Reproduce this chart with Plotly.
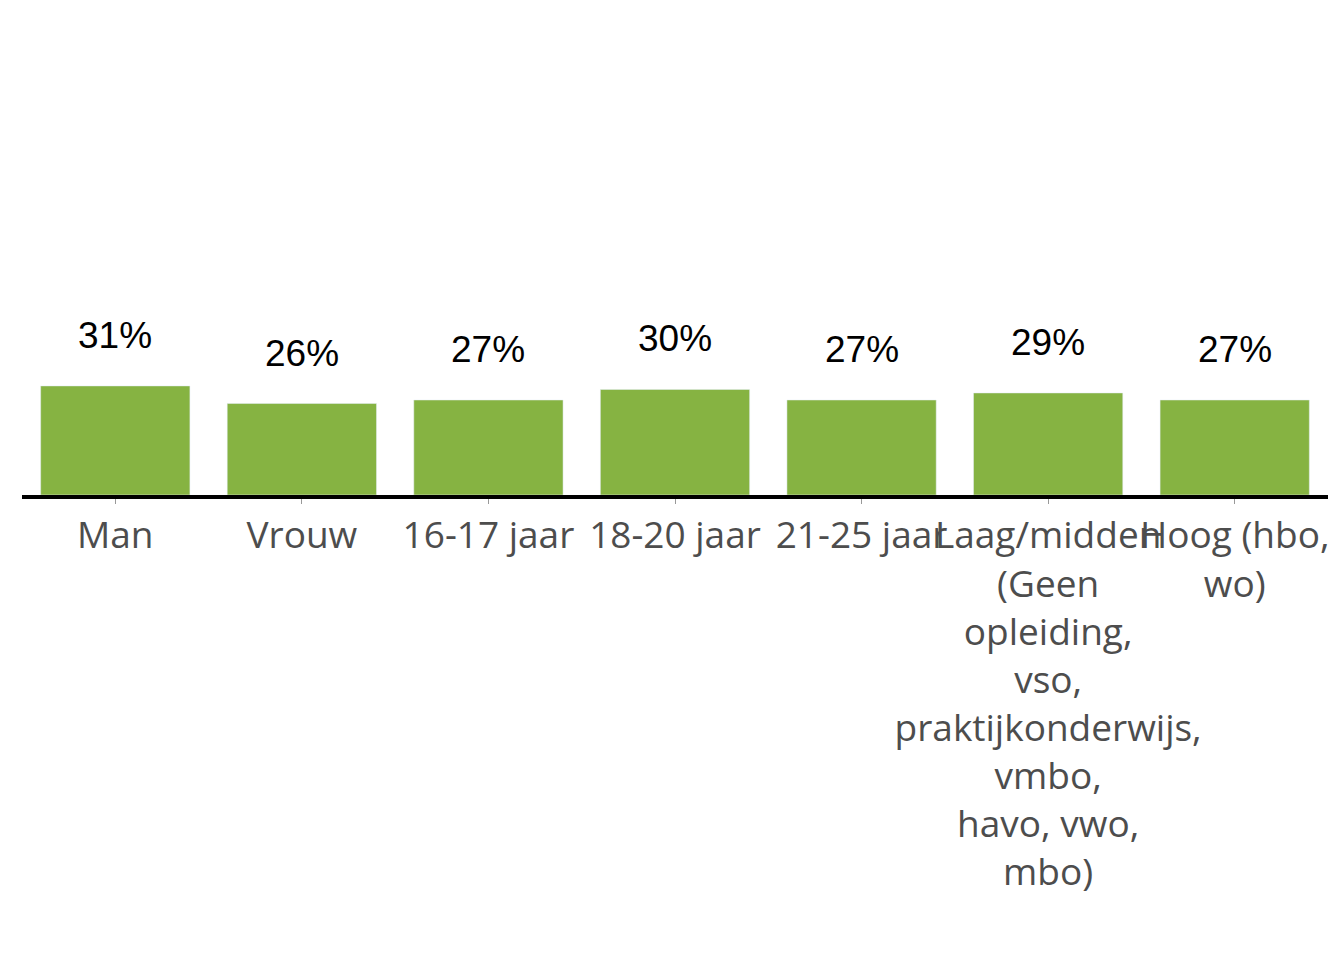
import plotly.graph_objects as go

categories = ["Man", "Vrouw", "16-17 jaar", "18-20 jaar", "21-25 jaar",
              "Laag/midden<br>(Geen<br>opleiding,<br>vso,<br>praktijkonderwijs,<br>vmbo,<br>havo, vwo,<br>mbo)",
              "Hoog (hbo,<br>wo)"]
values = [31, 26, 27, 30, 27, 29, 27]
labels = ["31%", "26%", "27%", "30%", "27%", "29%", "27%"]

fig = go.Figure(go.Bar(x=categories, y=values, marker_color="#86b342", hoverinfo="skip"))
for c, v, t in zip(categories, values, labels):
    fig.add_annotation(x=c, y=v, text=t, showarrow=False, yanchor="bottom", yshift=28,
                       font=dict(family="Arial", size=37, color="black"))
fig.update_layout(
    width=1344, height=960, plot_bgcolor="white", paper_bgcolor="white",
    margin=dict(l=14, r=24, t=12, b=473), bargap=0.2, showlegend=False,
    yaxis=dict(range=[0, 135], visible=False),
    xaxis=dict(showline=True, linecolor="black", linewidth=4, ticks="outside", ticklen=5,
               tickcolor="#999999", tickangle=0,
               tickfont=dict(family="Open Sans", size=37, color="#4d4d4d")),
)
fig.write_html("out.html")
